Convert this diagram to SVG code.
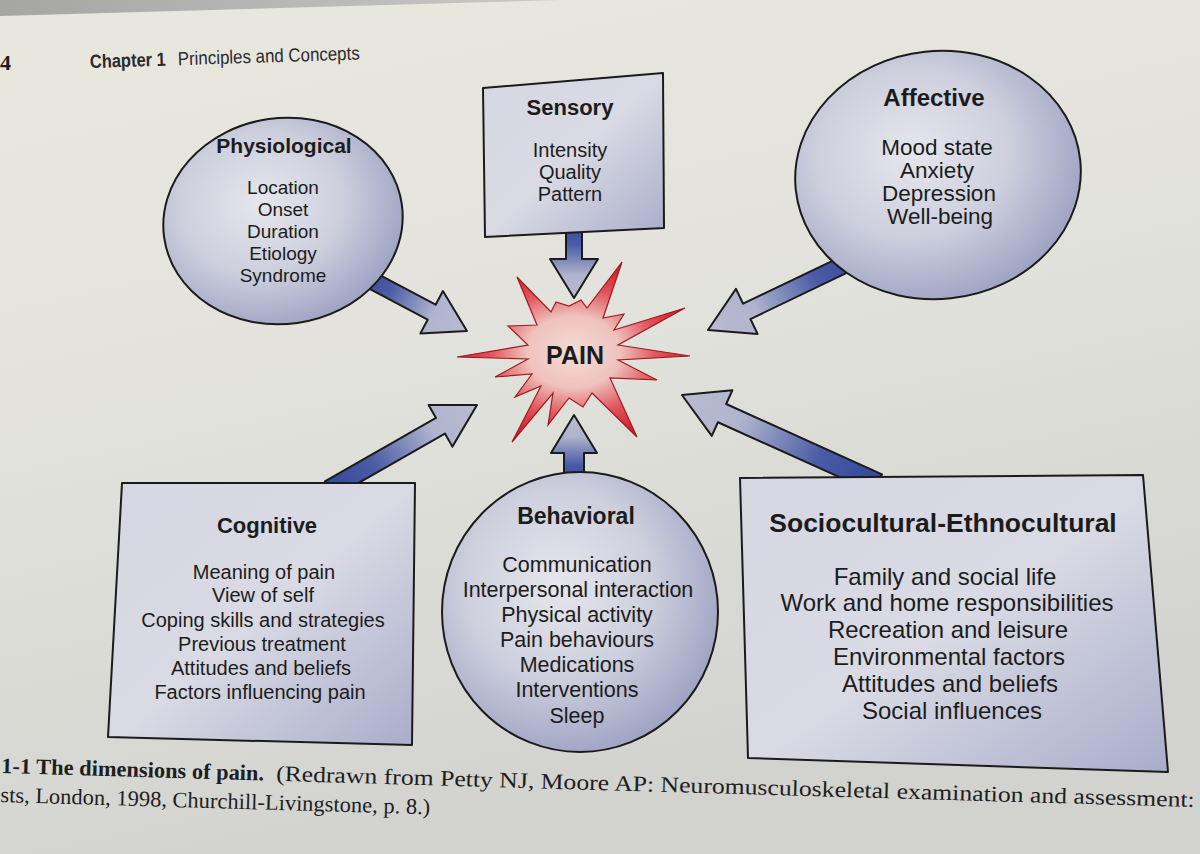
<svg xmlns="http://www.w3.org/2000/svg" width="1200" height="854" viewBox="0 0 1200 854">
<defs>
<linearGradient id="bg" x1="0" y1="0" x2="0.3" y2="1">
<stop offset="0" stop-color="#e9e8de"/>
<stop offset="0.5" stop-color="#e2e2dc"/>
<stop offset="1" stop-color="#d2d2cf"/>
</linearGradient>
<linearGradient id="edge" x1="0" y1="0" x2="1" y2="0">
<stop offset="0" stop-color="#a5a6a4"/>
<stop offset="1" stop-color="#c9cac6"/>
</linearGradient>
<radialGradient id="circ" cx="0.42" cy="0.4" r="0.62">
<stop offset="0" stop-color="#e6e6ec"/>
<stop offset="0.55" stop-color="#cdcfdd"/>
<stop offset="1" stop-color="#9fa4c4"/>
</radialGradient>
<linearGradient id="box" x1="0" y1="0" x2="1" y2="1">
<stop offset="0" stop-color="#d6d7e2"/>
<stop offset="0.5" stop-color="#d9dae4"/>
<stop offset="1" stop-color="#a9adca"/>
</linearGradient>
<linearGradient id="arr" x1="0" y1="0" x2="1" y2="0">
<stop offset="0" stop-color="#34479a"/>
<stop offset="0.3" stop-color="#4a5ca6"/>
<stop offset="0.7" stop-color="#b0b4cd"/>
<stop offset="1" stop-color="#b8bbd1"/>
</linearGradient>
<radialGradient id="star" cx="0.5" cy="0.5" r="0.5">
<stop offset="0" stop-color="#f4dcd6"/>
<stop offset="0.4" stop-color="#efc2bd"/>
<stop offset="0.72" stop-color="#e0525a"/>
<stop offset="1" stop-color="#d4202b"/>
</radialGradient>
</defs>
<style>
.ln{stroke:#1b1b1b;stroke-width:2;stroke-linejoin:round}
.t{font-family:"Liberation Sans",Arial,sans-serif;fill:#1c1c1c;text-anchor:middle}
.b{font-weight:bold}
.cap{font-family:"Liberation Serif","Times New Roman",serif;fill:#1e1e1e}
.hd{font-family:"Liberation Sans",Arial,sans-serif;fill:#2a2a30}
</style>
<rect x="0" y="0" width="1200" height="854" fill="url(#bg)"/>
<polygon points="0,0 560,0 0,16" fill="url(#edge)"/>
<g id="header">
<text class="cap b" x="0" y="70" font-size="22">4</text>
<g transform="rotate(-1.8 90 68)">
<text class="hd b" x="90" y="68" font-size="19" textLength="76" lengthAdjust="spacingAndGlyphs">Chapter 1</text>
<text class="hd" x="178" y="68" font-size="19" textLength="182" lengthAdjust="spacingAndGlyphs">Principles and Concepts</text>
</g>
</g>
<g id="connectors">
<path class="ln" fill="url(#arr)" transform="translate(356.6,272.3) rotate(28)" d="M0,-8.5 L85,-8.5 L85,-24 L125,0 L85,24 L85,8.5 L0,8.5 Z"/>
<path class="ln" fill="url(#arr)" transform="translate(574,222) rotate(90)" d="M0,-8 L37,-8 L37,-24 L76,0 L37,24 L37,8 L0,8 Z"/>
<path class="ln" fill="url(#arr)" transform="translate(861.3,256.5) rotate(154.4)" d="M0,-8.5 L127,-8.5 L127,-25 L170,0 L127,25 L127,8.5 L0,8.5 Z"/>
<path class="ln" fill="url(#arr)" transform="translate(329.3,489.2) rotate(-29.7)" d="M0,-9 L128,-9 L128,-24 L170,0 L128,24 L128,9 L0,9 Z"/>
<path class="ln" fill="url(#arr)" transform="translate(877.9,483.5) rotate(204.3)" d="M0,-10 L171,-10 L171,-25 L215,0 L171,25 L171,10 L0,10 Z"/>
<path class="ln" fill="url(#arr)" transform="translate(574,486) rotate(-90)" d="M0,-10 L33,-10 L33,-23 L71,0 L33,23 L33,10 L0,10 Z"/>
</g>
<g id="physiological">
<ellipse class="ln" cx="283" cy="221" rx="120" ry="103" transform="rotate(-8 283 221)" fill="url(#circ)"/>
<text class="t b" x="284" y="153" font-size="21">Physiological</text>
<text class="t" x="283" y="194" font-size="19">Location</text>
<text class="t" x="283" y="216" font-size="19">Onset</text>
<text class="t" x="283" y="238" font-size="19">Duration</text>
<text class="t" x="283" y="260" font-size="19">Etiology</text>
<text class="t" x="283" y="282" font-size="19">Syndrome</text>
</g>
<g id="sensory">
<polygon class="ln" points="483,88 663,73 664,228 485,237" fill="url(#box)"/>
<text class="t b" x="570" y="115" font-size="22">Sensory</text>
<text class="t" x="570" y="157" font-size="20">Intensity</text>
<text class="t" x="570" y="179" font-size="20">Quality</text>
<text class="t" x="570" y="201" font-size="20">Pattern</text>
</g>
<g id="affective">
<ellipse class="ln" cx="938" cy="175" rx="143" ry="124" transform="rotate(-6 938 175)" fill="url(#circ)"/>
<text class="t b" x="934" y="106" font-size="24">Affective</text>
<text class="t" x="937" y="155" font-size="22.5">Mood state</text>
<text class="t" x="937" y="178" font-size="22.5">Anxiety</text>
<text class="t" x="939" y="201" font-size="22.5">Depression</text>
<text class="t" x="940" y="224" font-size="22.5">Well-being</text>
</g>
<g id="cognitive">
<polygon class="ln" points="122,483 415,483 412,745 108,737" fill="url(#box)"/>
<text class="t b" x="267" y="533" font-size="22">Cognitive</text>
<text class="t" x="264" y="579" font-size="20">Meaning of pain</text>
<text class="t" x="263" y="602" font-size="20">View of self</text>
<text class="t" x="263" y="627" font-size="20">Coping skills and strategies</text>
<text class="t" x="262" y="651" font-size="20">Previous treatment</text>
<text class="t" x="261" y="675" font-size="20">Attitudes and beliefs</text>
<text class="t" x="260" y="699" font-size="20">Factors influencing pain</text>
</g>
<g id="behavioral">
<ellipse class="ln" cx="580" cy="612" rx="138" ry="140" fill="url(#circ)"/>
<text class="t b" x="576" y="524" font-size="23">Behavioral</text>
<text class="t" x="577" y="572" font-size="21.5">Communication</text>
<text class="t" x="578" y="597" font-size="21.5">Interpersonal interaction</text>
<text class="t" x="577" y="622" font-size="21.5">Physical activity</text>
<text class="t" x="577" y="647" font-size="21.5">Pain behaviours</text>
<text class="t" x="577" y="672" font-size="21.5">Medications</text>
<text class="t" x="577" y="697" font-size="21.5">Interventions</text>
<text class="t" x="577" y="723" font-size="21.5">Sleep</text>
</g>
<g id="sociocultural">
<polygon class="ln" points="740,478 1143,475 1168,772 748,758" fill="url(#box)"/>
<text class="t b" x="943" y="532" font-size="26.5">Sociocultural-Ethnocultural</text>
<text class="t" x="945" y="585" font-size="24">Family and social life</text>
<text class="t" x="947" y="611" font-size="24">Work and home responsibilities</text>
<text class="t" x="948" y="638" font-size="24">Recreation and leisure</text>
<text class="t" x="949" y="665" font-size="24">Environmental factors</text>
<text class="t" x="950" y="692" font-size="24">Attitudes and beliefs</text>
<text class="t" x="952" y="719" font-size="24">Social influences</text>
</g>
<g id="pain">
<polygon points="690,356 618,360 657,380 610,378 637,437 592,393 583,407 569,398 548,425 553,393 512,442 541,386 515,397 532,374 495,377 528,359 457,357 528,345 508,326 537,325 517,277 551,312 556,302 569,306 581,300 587,308 622,262 603,318 624,314 614,330 685,308 618,345" fill="url(#star)" stroke="#9e1a20" stroke-width="1.2" stroke-linejoin="miter"/>
<text class="t b" x="575" y="364" font-size="25">PAIN</text>
</g>
<g id="caption" transform="rotate(1.63 0 773)">
<text class="cap b" x="1" y="773" font-size="22" textLength="263" lengthAdjust="spacingAndGlyphs">1-1 The dimensions of pain.</text>
<text class="cap" x="276" y="773" font-size="22" textLength="919" lengthAdjust="spacingAndGlyphs">(Redrawn from Petty NJ, Moore AP: Neuromusculoskeletal examination and assessment:</text>
<text class="cap" x="1" y="802" font-size="22" textLength="430" lengthAdjust="spacingAndGlyphs">sts, London, 1998, Churchill-Livingstone, p. 8.)</text>
</g>
</svg>
